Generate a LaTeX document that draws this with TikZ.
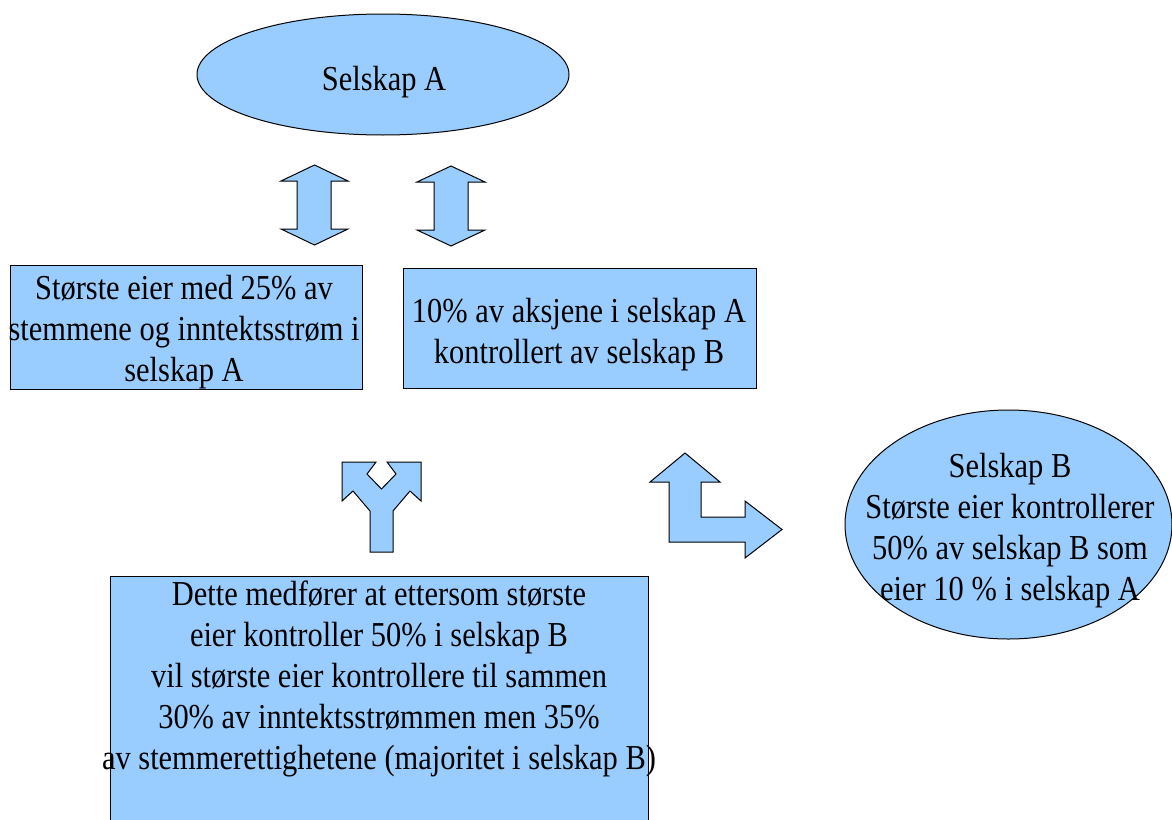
\documentclass[tikz,border=0pt]{standalone}
\usepackage{fontspec}
\setmainfont{Liberation Serif}[FakeStretch=0.87]
\usetikzlibrary{shapes.geometric}
\definecolor{skyfill}{HTML}{99CCFF}

\begin{document}
\begin{tikzpicture}[x=0.5pt,y=-0.5pt,
    every node/.style={font=\fontsize{17.5}{20.5}\selectfont,align=center},
    blue shape/.style={fill=skyfill,draw=black,line width=0.5pt},
    infobox/.style={blue shape,rectangle,inner sep=0pt}]
  \useasboundingbox (0,0) rectangle (1172,819);
  % companies
  \node[blue shape,ellipse,inner sep=0pt,minimum width=186pt,minimum height=60.5pt]
    (selskapA) at (383,74.5) {};
  \node (selskapAtext) at (384,82) {Selskap A};
  \node[blue shape,ellipse,inner sep=0pt,minimum width=163.5pt,minimum height=114.5pt]
    (selskapB) at (1008.5,524.5) {};
  \node (selskapBtext) at (1010,531)
    {Selskap B\\Største eier kontrollerer\\50\% av selskap B som\\eier 10 \% i selskap A};
  % boxes
  \node[infobox,minimum width=176pt,minimum height=62pt] (eier) at (186,327) {};
  \node (eiertext) at (184,332)
    {Største eier med 25\% av\\stemmene og inntektsstrøm i\\selskap A};
  \node[infobox,minimum width=176.5pt,minimum height=60pt] (aksjer) at (579.5,328) {};
  \node (aksjertext) at (579,335)
    {10\% av aksjene i selskap A\\kontrollert av selskap B};
  \node[infobox,anchor=north,minimum width=269pt,minimum height=140pt] (resultat) at (379,576) {};
  \node (resultattext) at (379,679)
    {Dette medfører at ettersom største\\eier kontroller 50\% i selskap B\\vil største eier kontrollere til sammen\\30\% av inntektsstrømmen men 35\%\\av stemmerettighetene (majoritet i selskap B)};
  % block arrows
  \draw[blue shape] (314.5,165) -- (348,181) -- (331,181) -- (331,229) -- (348,229)
    -- (314.5,245) -- (281,229) -- (297,229) -- (297,181) -- (281,181) -- cycle;
  \draw[blue shape] (451,166) -- (485,182) -- (468,182) -- (468,230) -- (485,230)
    -- (451,246) -- (417,230) -- (434,230) -- (434,182) -- (417,182) -- cycle;
  \draw[blue shape] (342,462) -- (376,462) -- (367,474) -- (381.5,489) -- (396,474)
    -- (387,462) -- (421,462) -- (421,501) -- (410,491) -- (393,511) -- (393,552)
    -- (370,552) -- (370,511) -- (353,491) -- (342,501) -- cycle;
  \draw[blue shape] (685,453) -- (720,482) -- (701,482) -- (701,517) -- (745,517)
    -- (745,501) -- (782,529.5) -- (745,558) -- (745,542) -- (669,542) -- (669,482)
    -- (650,482) -- cycle;
\end{tikzpicture}
\end{document}
